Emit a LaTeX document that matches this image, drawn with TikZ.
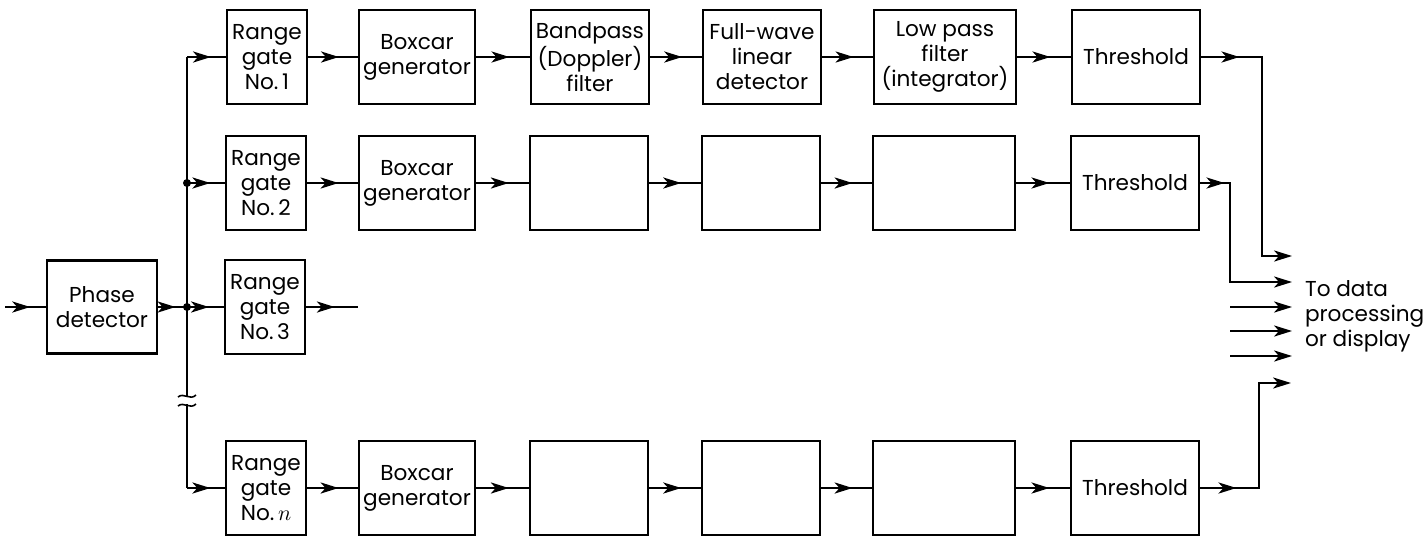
\documentclass[tikz,border=0pt]{standalone}
\usepackage{fontspec}
\setmainfont{Poppins}
\usetikzlibrary{arrows.meta,decorations.markings}

\begin{document}
\begin{tikzpicture}[
    x=0.5pt, y=-0.5pt,
    >={Stealth[length=9pt,width=5.6pt,inset=2.5pt]},
    every node/.style={font=\fontsize{10.8}{12.5}\selectfont, align=center},
    blk/.style={draw, line width=1.4pt, minimum height=47pt, inner sep=1pt},
    gate/.style={blk, minimum width=40pt},
    boxcar/.style={blk, minimum width=58pt},
    bpf/.style={blk, minimum width=59pt},
    fwd/.style={blk, minimum width=59pt},
    lpf/.style={blk, minimum width=71pt},
    thr/.style={blk, minimum width=64pt},
    wire/.style={line width=0.8pt},
    flow/.style={wire, postaction=decorate, decoration={markings,
        mark=at position #1 with {\arrow{Stealth[length=9pt,width=5.6pt,inset=2.5pt]}}}},
    flow/.default=0.62,
]

\useasboundingbox (0,0) rectangle (1426,538);

% --- front end ---
\node[blk, minimum width=55pt, minimum height=46.5pt] (pd) at (102,307) {Phase\\detector};
\node[gate] (rg3) at (265,307) {Range\\gate\\No.\,3};

% --- channel 1 (labelled) ---
\node[gate]   (rg1) at (267,57)  {Range\\gate\\No.\,1};
\node[boxcar] (bc1) at (417,57)  {Boxcar\\generator};
\node[bpf]    (bp1) at (590,57)  {Bandpass\\(Doppler)\\filter};
\node[fwd]    (fw1) at (762,57)  {Full-wave\\linear\\detector};
\node[lpf]    (lp1) at (945,57)  {Low pass\\filter\\(integrator)};
\node[thr]    (th1) at (1136,57) {Threshold};

% --- channels 2 and n (same blocks, blank) ---
\foreach \r/\y/\lbl in {2/183/2, n/488/$n$} {
    \node[gate]   (rg\r) at (266,\y)  {Range\\gate\\No.\,\lbl};
    \node[boxcar] (bc\r) at (417,\y)  {Boxcar\\generator};
    \node[bpf]    (bp\r) at (589,\y)  {};
    \node[fwd]    (fw\r) at (761,\y)  {};
    \node[lpf]    (lp\r) at (944,\y)  {};
    \node[thr]    (th\r) at (1135,\y) {Threshold};
}

% chains
\foreach \r in {1,2,n} {
    \draw[flow] (rg\r) -- (bc\r);
    \draw[flow] (bc\r) -- (bp\r);
    \draw[flow] (bp\r) -- (fw\r);
    \draw[flow] (fw\r) -- (lp\r);
    \draw[flow] (lp\r) -- (th\r);
}

% --- distribution bus ---
\coordinate (top)  at (187,57);
\coordinate (j2)   at (187,183);
\coordinate (j3)   at (187,307);
\coordinate (brka) at (187,396);
\coordinate (brkb) at (187,404);
\coordinate (bot)  at (187,488);
\coordinate (in)   at (5,307);
\coordinate (rg3o) at (358,307);

\draw[wire] (top) -- (brka);
\draw[wire] (brkb) -- (bot);
\draw[wire] (178,397) .. controls (184,392) and (190,401) .. (196,395);
\draw[wire] (178,406) .. controls (184,401) and (190,410) .. (196,404);
\fill (j2) circle (4);
\fill (j3) circle (4);

\draw[flow] (in) -- (pd);
\draw[flow=0.6] (pd) -- (j3);
\draw[flow=0.6] (j3) -- (rg3);
\draw[flow=0.55] (rg3) -- (rg3o);
\draw[flow] (top) -- (rg1);
\draw[flow] (j2) -- (rg2);
\draw[flow] (bot) -- (rgn);

% --- outputs ---
\coordinate (k1) at (1262,57);
\coordinate (o1) at (1292,256);
\coordinate (k2) at (1230,183);
\coordinate (o2) at (1292,282);
\coordinate (kn) at (1259,488);
\coordinate (on) at (1291,383);

\draw[flow=19pt, ->] (th1) -- (k1) |- (o1);
\draw[flow=12pt, ->] (th2) -- (k2) |- (o2);
\draw[flow=18pt, ->] (thn) -- (kn) |- (on);

\foreach \i/\y in {3/307, 4/331, 5/356} {
    \coordinate (s\i) at (1230,\y);
    \coordinate (o\i) at (1292,\y);
    \draw[wire, ->] (s\i) -- (o\i);
}

\node[anchor=west, align=left] (dest) at (1298,316) {To data\\processing\\or display};

\end{tikzpicture}
\end{document}
